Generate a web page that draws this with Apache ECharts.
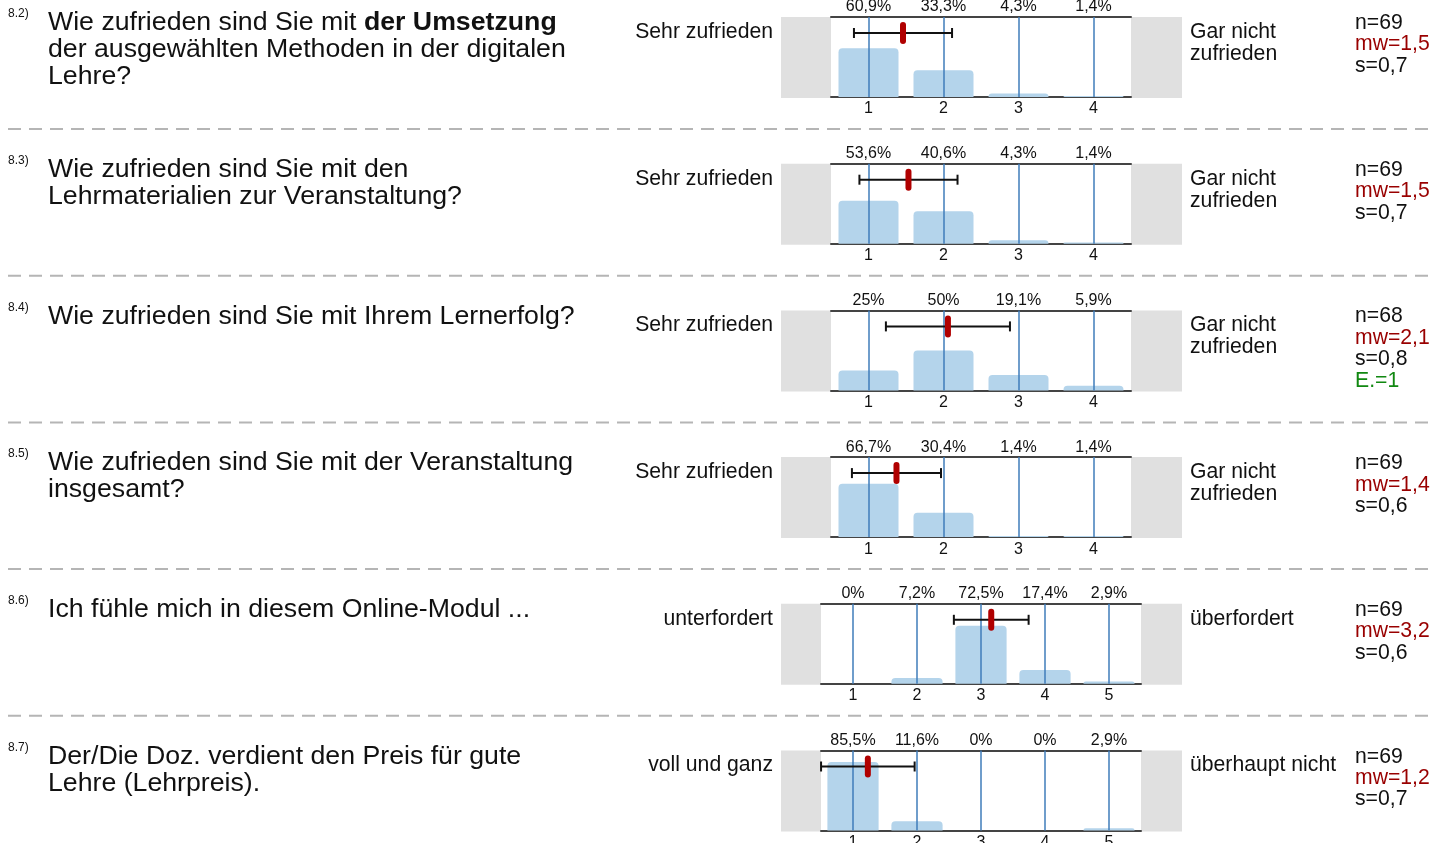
<!DOCTYPE html>
<html>
<head>
<meta charset="utf-8">
<script src="https://cdn.jsdelivr.net/npm/echarts@6/dist/echarts.min.js"></script>
<style>
  html, body { margin: 0; padding: 0; background: #fff; }
  #chart { width: 1447px; height: 843px; }
</style>
</head>
<body>
<div id="chart"></div>
<script>
// Survey block 8: satisfaction items with answer distribution, mean and standard deviation
const questionNos = ['8.2)', '8.3)', '8.4)', '8.5)', '8.6)', '8.7)'];
const questionLines = [
  ['Wie zufrieden sind Sie mit **der Umsetzung**', 'der ausgewählten Methoden in der digitalen', 'Lehre?'],
  ['Wie zufrieden sind Sie mit den', 'Lehrmaterialien zur Veranstaltung?'],
  ['Wie zufrieden sind Sie mit Ihrem Lernerfolg?'],
  ['Wie zufrieden sind Sie mit der Veranstaltung', 'insgesamt?'],
  ['Ich fühle mich in diesem Online-Modul ...'],
  ['Der/Die Doz. verdient den Preis für gute', 'Lehre (Lehrpreis).']
];
const leftPoles = ['Sehr zufrieden', 'Sehr zufrieden', 'Sehr zufrieden', 'Sehr zufrieden', 'unterfordert', 'voll und ganz'];
const rightPoles = [
  ['Gar nicht', 'zufrieden'],
  ['Gar nicht', 'zufrieden'],
  ['Gar nicht', 'zufrieden'],
  ['Gar nicht', 'zufrieden'],
  ['überfordert'],
  ['überhaupt nicht']
];
const scale4Ticks = ['1', '2', '3', '4'];
const scale5Ticks = ['1', '2', '3', '4', '5'];
const rowTicks = [scale4Ticks, scale4Ticks, scale4Ticks, scale4Ticks, scale5Ticks, scale5Ticks];
const percentages = [
  [60.9, 33.3, 4.3, 1.4],
  [53.6, 40.6, 4.3, 1.4],
  [25, 50, 19.1, 5.9],
  [66.7, 30.4, 1.4, 1.4],
  [0, 7.2, 72.5, 17.4, 2.9],
  [85.5, 11.6, 0, 0, 2.9]
];
const counts = [69, 69, 68, 69, 69, 69];
const means = [1.46, 1.533, 2.059, 1.373, 3.16, 1.232];
const sds = [0.654, 0.654, 0.827, 0.594, 0.584, 0.731];
const abstentions = [0, 0, 1, 0, 0, 0];

// layout
const FONT = '"Liberation Sans", Arial, Helvetica, sans-serif';
const ROW_H = 146.7;
const PLOT_TOP = 17;
const PLOT_H = 80;
const PANEL_LEFT = 781;
const PANEL_RIGHT = 1182;
const plotBox = { 4: { left: 831, width: 300 }, 5: { left: 821, width: 320 } };
const BAR_COLOR = '#b4d4eb';
const GRID_BLUE = '#3f7cba';
const AXIS_DARK = '#444';
const TEXT = '#111';

const fmt = v => String(v).replace('.', ',');

const grids = [], xAxes = [], yAxes = [], series = [], graphics = [];

rowTicks.forEach((ticks, r) => {
  const rowTop = r * ROW_H;
  const box = plotBox[ticks.length];
  const top = rowTop + PLOT_TOP;

  grids.push({
    left: box.left, top: top, width: box.width, height: PLOT_H,
    containLabel: false, outerBoundsMode: 'none'
  });

  // bottom: answer scale
  xAxes.push({
    type: 'category', gridIndex: r, position: 'bottom', data: ticks, boundaryGap: true,
    axisLine: { show: true, lineStyle: { color: AXIS_DARK, width: 2 } },
    axisTick: { show: false },
    axisLabel: { interval: 0, margin: 4, fontSize: 16, fontFamily: FONT, color: TEXT },
    splitLine: { show: false }
  });
  // top: share of answers per scale point
  xAxes.push({
    type: 'category', gridIndex: r, position: 'top',
    data: percentages[r].map(v => fmt(v) + '%'), boundaryGap: true,
    axisLine: { show: true, lineStyle: { color: AXIS_DARK, width: 2 } },
    axisTick: { show: false },
    axisLabel: { interval: 0, margin: 2, fontSize: 16, fontFamily: FONT, color: TEXT },
    splitLine: { show: false }
  });
  // continuous scale for mean / deviation
  xAxes.push({
    type: 'value', gridIndex: r, min: 0.5, max: ticks.length + 0.5, show: false
  });
  yAxes.push({ type: 'value', gridIndex: r, min: 0, max: 100, show: false });

  series.push({
    type: 'bar', xAxisIndex: r * 3, yAxisIndex: r, z: 2,
    data: percentages[r], barWidth: '80%',
    itemStyle: { color: BAR_COLOR, borderRadius: [4, 4, 0, 0] },
    silent: true,
    markLine: {
      silent: true, symbol: ['none', 'none'], z: 5,
      label: { show: false },
      lineStyle: { color: GRID_BLUE, width: 1.5, type: 'solid' },
      emphasis: { disabled: true },
      data: ticks.map(t => ({ xAxis: t }))
    }
  });

  series.push({
    type: 'custom', xAxisIndex: r * 3 + 2, yAxisIndex: r, z: 10, silent: true,
    data: [[means[r], sds[r]]],
    encode: { x: 0 },
    renderItem(params, api) {
      const m = api.value(0), s = api.value(1);
      const c = api.coord([m, 100]);
      const xl = api.coord([m - s, 100])[0];
      const xr = api.coord([m + s, 100])[0];
      const y = c[1] + 16;
      const st = { stroke: '#111', lineWidth: 2 };
      return {
        type: 'group',
        children: [
          { type: 'line', shape: { x1: xl, y1: y, x2: xr, y2: y }, style: st },
          { type: 'line', shape: { x1: xl, y1: y - 5, x2: xl, y2: y + 5 }, style: st },
          { type: 'line', shape: { x1: xr, y1: y - 5, x2: xr, y2: y + 5 }, style: st },
          { type: 'rect', shape: { x: c[0] - 3, y: y - 11, width: 6, height: 22, r: 3 }, style: { fill: '#b00000' } }
        ]
      };
    }
  });

  // grey side panels
  graphics.push({
    type: 'rect', z: -1, silent: true,
    shape: { x: PANEL_LEFT, y: top, width: box.left - PANEL_LEFT, height: PLOT_H + 1 },
    style: { fill: '#e0e0e0' }
  });
  graphics.push({
    type: 'rect', z: -1, silent: true,
    shape: { x: box.left + box.width, y: top, width: PANEL_RIGHT - box.left - box.width, height: PLOT_H + 1 },
    style: { fill: '#e0e0e0' }
  });

  // item number
  graphics.push({
    type: 'text', silent: true,
    style: { text: questionNos[r], x: 8, y: rowTop + 14, font: '12px ' + FONT, fill: TEXT,
             textAlign: 'left', textVerticalAlign: 'middle', align: 'left', verticalAlign: 'middle' }
  });

  // question text (supports **bold** segments)
  const qText = questionLines[r].map(line =>
    line.split('**').map((part, i) => part ? (i % 2 ? '{b|' + part + '}' : '{n|' + part + '}') : '').join('')
  ).join('\n');
  graphics.push({
    type: 'text', silent: true,
    style: {
      text: qText, x: 48, y: rowTop + 9.5, fill: TEXT,
      textAlign: 'left', textVerticalAlign: 'top', align: 'left', verticalAlign: 'top',
      rich: {
        n: { font: '26.7px ' + FONT, lineHeight: 27, fill: TEXT },
        b: { font: 'bold 26.7px ' + FONT, lineHeight: 27, fill: TEXT }
      }
    }
  });

  // scale poles
  graphics.push({
    type: 'text', silent: true,
    style: { text: leftPoles[r], x: 773, y: rowTop + 32, font: '21.2px ' + FONT, fill: TEXT,
             textAlign: 'right', textVerticalAlign: 'middle', align: 'right', verticalAlign: 'middle' }
  });
  graphics.push({
    type: 'text', silent: true,
    style: {
      text: rightPoles[r].map(l => '{p|' + l + '}').join('\n'), x: 1190, y: rowTop + 21, fill: TEXT,
      textAlign: 'left', textVerticalAlign: 'top', align: 'left', verticalAlign: 'top',
      rich: { p: { font: '21.2px ' + FONT, lineHeight: 22, fill: TEXT } }
    }
  });

  // statistics
  const stats = [
    '{k|n=' + counts[r] + '}',
    '{m|mw=' + fmt(means[r].toFixed(1)) + '}',
    '{k|s=' + fmt(sds[r].toFixed(1)) + '}'
  ];
  if (abstentions[r]) stats.push('{e|E.=' + abstentions[r] + '}');
  graphics.push({
    type: 'text', silent: true,
    style: {
      text: stats.join('\n'), x: 1355, y: rowTop + 12.5, fill: TEXT,
      textAlign: 'left', textVerticalAlign: 'top', align: 'left', verticalAlign: 'top',
      rich: {
        k: { font: '21.2px ' + FONT, lineHeight: 21.4, fill: TEXT },
        m: { font: '21.2px ' + FONT, lineHeight: 21.4, fill: '#990000' },
        e: { font: '21.2px ' + FONT, lineHeight: 21.4, fill: '#118811' }
      }
    }
  });

  // dashed separator below the row
  if (r < rowTicks.length - 1) {
    graphics.push({
      type: 'line', silent: true,
      shape: { x1: 8, y1: rowTop + 129, x2: 1430, y2: rowTop + 129 },
      style: { stroke: '#b5b5b5', lineWidth: 2, lineDash: [13, 8] }
    });
  }
});

const chart = echarts.init(document.getElementById('chart'), null, { renderer: 'canvas' });
chart.setOption({
  animation: false,
  backgroundColor: '#fff',
  grid: grids,
  xAxis: xAxes,
  yAxis: yAxes,
  series: series,
  graphic: { elements: graphics }
});
</script>
</body>
</html>
